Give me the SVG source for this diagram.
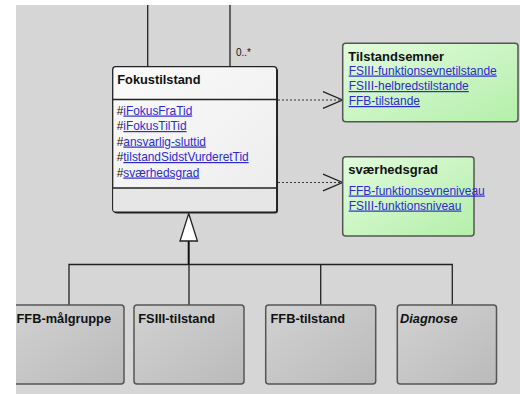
<svg xmlns="http://www.w3.org/2000/svg" width="520" height="394" viewBox="0 0 520 394">
<defs>
<linearGradient id="gWhite" x1="0" y1="0" x2="1" y2="1"><stop offset="0" stop-color="#fbfbfb"/><stop offset="1" stop-color="#ececec"/></linearGradient>
<linearGradient id="gGreen" x1="0" y1="0" x2="1" y2="1"><stop offset="0" stop-color="#e2fbdc"/><stop offset="1" stop-color="#b4efaa"/></linearGradient>
<linearGradient id="gGray" x1="0" y1="0" x2="1" y2="1"><stop offset="0" stop-color="#d2d2d2"/><stop offset="1" stop-color="#bababa"/></linearGradient>
<style>
.t{font-family:"Liberation Sans",Arial,sans-serif;fill:#111}
.b{font-weight:bold;font-size:12.8px}
.bl{font-weight:bold;font-size:12.8px}
.a{font-size:11.9px}
.lk{fill:#2b2bd0;text-decoration:underline}
.ln{stroke:#222;stroke-width:1.3;fill:none}
.dot{stroke:#333;stroke-width:1.2;stroke-dasharray:2,2;fill:none}
.grey{fill:url(#gGray);stroke:#555;stroke-width:1.5}
</style>
</defs>
<rect width="520" height="394" fill="#d6d6d6"/>
<g id="connectors">
<line class="ln" x1="147.7" y1="5" x2="147.7" y2="67"/>
<line class="ln" x1="230" y1="5" x2="230" y2="67"/>
<text class="t" x="236" y="56" font-size="10">0..*</text>
<line class="dot" x1="278" y1="100" x2="341" y2="100"/>
<polyline class="ln" points="323,91.7 342.5,100 323,108.3"/>
<line class="dot" x1="278" y1="182.5" x2="341" y2="182.5"/>
<polyline class="ln" points="323,174.2 342.5,182.5 323,190.8"/>
<line stroke="#111" stroke-width="2" x1="188.7" y1="241" x2="188.7" y2="264.5"/>
<polyline class="ln" points="69,305 69,264.5 452.3,264.5 452.3,305"/>
<line class="ln" x1="189" y1="264.5" x2="189" y2="305"/>
<line class="ln" x1="320.7" y1="264.5" x2="320.7" y2="305"/>
<polygon points="188.7,213.5 180,241 197.4,241" fill="#fff" stroke="#222" stroke-width="1.3"/>
</g>
<g id="Fokustilstand">
<rect x="114" y="68" width="164" height="145.5" rx="3" fill="#222"/>
<rect x="112.7" y="66.7" width="164" height="145.3" rx="3" fill="url(#gWhite)" stroke="#222" stroke-width="1.3"/>
<rect x="113.4" y="188" width="162.6" height="23.3" fill="#e6e6e6"/>
<line class="ln" x1="112.7" y1="99.5" x2="276.7" y2="99.5"/>
<line class="ln" x1="112.7" y1="188" x2="276.7" y2="188"/>
<text class="t b" x="117.3" y="84">Fokustilstand</text>
<text class="t a" x="116.7" y="114.5">#<tspan class="lk">iFokusFraTid</tspan></text>
<text class="t a" x="116.7" y="130">#<tspan class="lk">iFokusTilTid</tspan></text>
<text class="t a" x="116.7" y="145.5">#<tspan class="lk">ansvarlig-sluttid</tspan></text>
<text class="t a" x="116.7" y="161">#<tspan class="lk">tilstandSidstVurderetTid</tspan></text>
<text class="t a" x="116.7" y="176.5">#<tspan class="lk">sværhedsgrad</tspan></text>
</g>
<g id="Tilstandsemner">
<rect x="342.7" y="43.3" width="175.3" height="78.4" rx="3" fill="url(#gGreen)" stroke="#555" stroke-width="1.5"/>
<text class="t" x="348.3" y="61" font-weight="bold" font-size="13px">Tilstandsemner</text>
<text class="t lk" x="348.7" y="74.5" font-size="12px">FSIII-funktionsevnetilstande</text>
<text class="t lk" x="348.7" y="90" font-size="12px">FSIII-helbredstilstande</text>
<text class="t lk" x="348.7" y="105" font-size="12px">FFB-tilstande</text>
</g>
<g id="svaerhedsgrad">
<rect x="342.7" y="156.7" width="131.3" height="79.3" rx="3" fill="url(#gGreen)" stroke="#555" stroke-width="1.5"/>
<text class="t" x="348.3" y="173.5" font-weight="bold" font-size="13px">sværhedsgrad</text>
<text class="t lk" x="348.7" y="194.5" font-size="12px">FFB-funktionsevneniveau</text>
<text class="t lk" x="348.7" y="209.5" font-size="12px">FSIII-funktionsniveau</text>
</g>
<g id="FFB-malgruppe">
<rect class="grey" x="10" y="305" width="114" height="79" rx="3"/>
<text class="t bl" x="16.5" y="322.5">FFB-målgruppe</text>
</g>
<g id="FSIII-tilstand">
<rect class="grey" x="134" y="305" width="110" height="79" rx="3"/>
<text class="t bl" x="138.3" y="322.5">FSIII-tilstand</text>
</g>
<g id="FFB-tilstand">
<rect class="grey" x="265.7" y="305" width="110" height="79" rx="3"/>
<text class="t bl" x="270.5" y="322.5">FFB-tilstand</text>
</g>
<g id="Diagnose">
<rect class="grey" x="397.3" y="305" width="99.2" height="79" rx="3"/>
<text class="t bl" x="400" y="322.5" font-style="italic">Diagnose</text>
</g>
<rect x="0" y="0" width="16" height="394" fill="#fff"/>
<rect x="0" y="0" width="520" height="5" fill="#fff"/>
</svg>
